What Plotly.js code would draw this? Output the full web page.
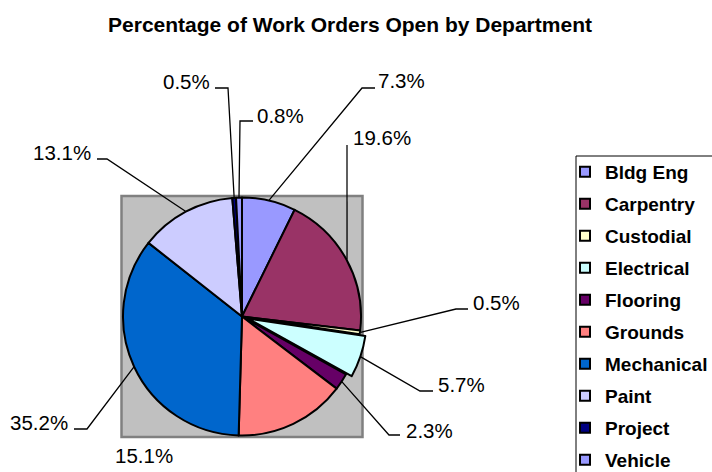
<!DOCTYPE html>
<html><head><meta charset="utf-8">
<script src="https://cdn.plot.ly/plotly-3.0.1.min.js"></script>
<style>html,body{margin:0;padding:0;background:#fff}#chart{width:712px;height:472px}</style>
</head><body><div id="chart"></div>
<script>
// ---- data ----
const departments = ['Bldg Eng','Carpentry','Custodial','Electrical','Flooring','Grounds','Mechanical','Paint','Project','Vehicle'];
const percentOpen = [7.3, 19.6, 0.5, 5.7, 2.3, 15.1, 35.2, 13.1, 0.5, 0.8];
const percentLabels = ['7.3%','19.6%','0.5%','5.7%','2.3%','15.1%','35.2%','13.1%','0.5%','0.8%'];
const sliceColors = ['#9999FF','#993366','#FFFFCC','#CCFFFF','#660066','#FF8080','#0066CC','#CCCCFF','#000080','#9999FF'];
const slicePull = [0, 0, 0, 0.05, 0, 0, 0, 0, 0, 0];
const chartTitle = 'Percentage of Work Orders Open by Department';

// ---- layout (pixels) ----
const W = 712, H = 472;
const FONT = 'Arial, "Liberation Sans", sans-serif';
const PIE = {cx: 242, cy: 316.5, r: 119};
const PLOTAREA_HALF = 120.5;
const labelPos = [[401,80],[382,137],[496.5,302],[461.5,384],[429.5,430],[144,455],[39,422],[61.5,152],[186.5,82],[280.5,115]];
const leaderElbow = [[[362,88],[375,88]], [[347,145]], [[456,309],[468,309]], [[420,391],[433,391]], [[389,435],[400,435]], null, [[87,429],[74,429]], [[107,159],[97,159]], [[228,88],[215,88]], [[240,121],[253,121]]];

const px = x => x / W;
const py = y => 1 - y / H;

const maxPull = Math.max(...slicePull);
const half = PIE.r * (1 + maxPull);
const domain = {x: [px(PIE.cx - half), px(PIE.cx + half)], y: [py(PIE.cy + half), py(PIE.cy - half)]};

// leader lines: start on the slice edge at its mid-angle (computed from the data)
const total = percentOpen.reduce((a, b) => a + b, 0);
let cum = 0;
const shapes = [];
shapes.push({type:'rect', xref:'paper', yref:'paper', layer:'below',
  x0: px(PIE.cx - PLOTAREA_HALF), x1: px(PIE.cx + PLOTAREA_HALF),
  y0: py(PIE.cy + PLOTAREA_HALF), y1: py(PIE.cy - PLOTAREA_HALF),
  fillcolor:'#C0C0C0', line:{color:'#808080', width:2.5}});
const annotations = [];
percentOpen.forEach((v, i) => {
  const mid = (cum + v / 2) / total * 2 * Math.PI;
  cum += v;
  const rr = PIE.r * (1 + slicePull[i]) + 0.5;
  const sx = PIE.cx + rr * Math.sin(mid), sy = PIE.cy - rr * Math.cos(mid);
  if (leaderElbow[i]) {
    let d = `M${px(sx)},${py(sy)}`;
    leaderElbow[i].forEach(p => { d += ` L${px(p[0])},${py(p[1])}`; });
    shapes.push({type:'path', xref:'paper', yref:'paper', layer:'above', path:d, line:{color:'#000', width:1.3}});
  }
  annotations.push({xref:'paper', yref:'paper', x: px(labelPos[i][0]), y: py(labelPos[i][1]),
    xanchor:'center', yanchor:'middle', showarrow:false, text: percentLabels[i],
    font:{family: FONT, size: 20.5, color:'#000'}});
});
// legend frame (extends past the right/bottom edge as in the original)
shapes.push({type:'rect', xref:'paper', yref:'paper', layer:'above',
  x0: px(576), x1: px(740), y0: py(490), y1: py(156),
  fillcolor:'rgba(0,0,0,0)', line:{color:'#000', width:1}});

const pieTrace = {
  type:'pie', labels: departments, values: percentOpen, sort:false, direction:'clockwise', rotation:0,
  pull: slicePull, textinfo:'none', hoverinfo:'label+percent', showlegend:false,
  marker:{colors: sliceColors, line:{color:'#000', width:2}},
  domain: domain
};
// legend entries (one per department, same colours as the slices)
const legendTraces = departments.map((name, i) => ({
  type:'scatter', mode:'markers', x:[null], y:[null], name: name, legendgroup: 'g' + i,
  showlegend:true, hoverinfo:'skip',
  marker:{symbol:'square', size:10, color: sliceColors[i], line:{color:'#000', width:2}}
}));

const layout = {
  width: W, height: H,
  margin:{l:0, r:0, t:0, b:0, autoexpand:false},
  paper_bgcolor:'#fff', plot_bgcolor:'rgba(0,0,0,0)',
  xaxis:{visible:false}, yaxis:{visible:false},
  title:{text: chartTitle, x: px(350), xref:'container', xanchor:'center', y: 1 - 24.5 / H, yref:'container', yanchor:'middle',
    font:{family: FONT, size: 21, weight:'bold', color:'#000'}},
  showlegend: true,
  legend:{x: px(565), xanchor:'left', y: py(153), yanchor:'top', traceorder:'grouped', tracegroupgap: 4.3,
    bgcolor:'rgba(0,0,0,0)', borderwidth:0, font:{family: FONT, size: 19, weight:'bold', color:'#000'}},
  shapes: shapes,
  annotations: annotations
};

Plotly.newPlot('chart', [pieTrace].concat(legendTraces), layout, {displayModeBar:false, staticPlot:true});
</script>
</body></html>
